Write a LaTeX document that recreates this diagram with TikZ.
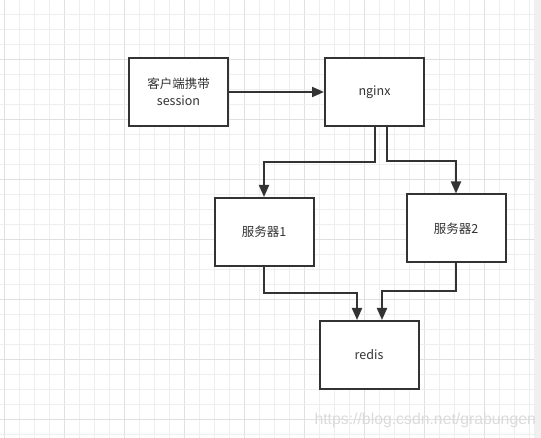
\documentclass[tikz,border=0pt]{standalone}
\usepackage{fontspec}
\newfontfamily\cjk{Noto Sans CJK SC}
\newfontfamily\markfont{Liberation Sans}
\usetikzlibrary{arrows.meta, positioning}
\definecolor{ink}{HTML}{333333}
\definecolor{gridminor}{HTML}{EEEEEE}
\definecolor{gridmajor}{HTML}{E0E0E0}
\definecolor{barfill}{HTML}{F0F0F0}

\begin{document}
\begin{tikzpicture}[
    x=1pt, y=-1pt,
    box/.style={draw=ink, fill=white, line width=2pt, rectangle, minimum width=99pt, minimum height=68pt, align=center, text=ink, font=\cjk\fontsize{12.5}{17}\selectfont},
    arrow/.style={-{Triangle[length=12pt, width=10pt]}, draw=ink, line width=2pt}
]
\useasboundingbox (0,0) rectangle (541,438);

% Grid
\fill[white] (0,0) rectangle (541,438);
\foreach \k in {0,...,35} {
    \pgfmathtruncatemacro{\maj}{mod(\k,4)==0}
    \ifnum\maj=1 \draw[gridmajor, line width=1pt] (4.5+15*\k,0) -- (4.5+15*\k,438);
    \else \draw[gridminor, line width=1pt] (4.5+15*\k,0) -- (4.5+15*\k,438); \fi
}
\foreach \k in {-1,...,28} {
    \pgfmathtruncatemacro{\maj}{mod(\k+4,4)==3}
    \ifnum\maj=1 \draw[gridmajor, line width=1pt] (0,14.5+15*\k) -- (541,14.5+15*\k);
    \else \draw[gridminor, line width=1pt] (0,14.5+15*\k) -- (541,14.5+15*\k); \fi
}
\fill[barfill] (534,0) rectangle (541,438);

% Nodes
\node [box] (client) at (178.5,92) {客户端携带\\session};
\node [box, right=95pt of client] (nginx) {nginx};
\node [box] (server1) at (264,232) {服务器1};
\node [box] (server2) at (456,228.5) {服务器2};
\node [box] (redis) at (369,355) {redis};

% Arrows
\draw [arrow] (client) -- (nginx);
\draw [arrow] ([xshift=0.5pt]nginx.south) -- ++(0,35) -| (server1.north);
\draw [arrow] ([xshift=12.5pt]nginx.south) -- ++(0,34) -| (server2.north);
\draw [arrow] (server1.south) -- ++(0,26) -| ([xshift=-12pt]redis.north);
\draw [arrow] (server2.south) -- ++(0,28) -| ([xshift=13pt]redis.north);

% Watermark
\node [anchor=west, text=gray!28, font=\markfont\fontsize{15.8}{18}\selectfont] (mark) at (311,420) {https://blog.csdn.net/grabungen};

\end{tikzpicture}
\end{document}
